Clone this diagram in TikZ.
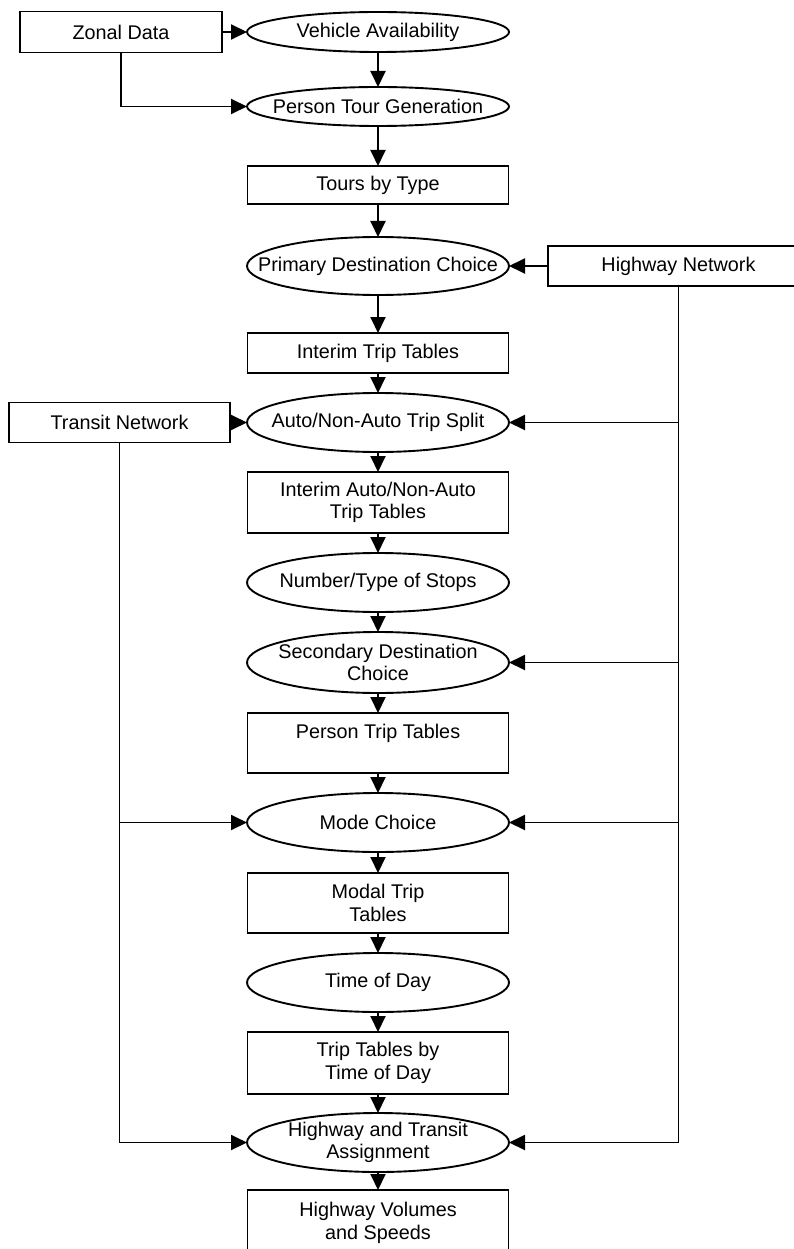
\documentclass[tikz,border=0pt]{standalone}
\usepackage{fontspec}
\setmainfont{Liberation Sans}
\usetikzlibrary{arrows.meta,positioning,shapes.geometric}

\begin{document}
\begin{tikzpicture}[font=\fontsize{19.8pt}{22.5pt}\selectfont,node distance=20pt,line width=1.9pt,
  box/.style={draw,align=center,minimum width=261pt,minimum height=40pt,inner sep=2pt,outer sep=0pt},
  proc/.style={draw,ellipse,align=center,minimum width=262pt,minimum height=40pt,inner xsep=-60pt,inner ysep=0pt,outer sep=0pt},
  arr/.style={-{Triangle[length=16pt,width=15pt]}}]
\useasboundingbox (0,0) rectangle (793pt,-1249pt);
\node[proc] (veh) at (378pt,-32pt) {Vehicle Availability};
\node[box,minimum width=202pt,minimum height=41pt,left=25pt of veh] (zonal) {Zonal Data};
\node[proc,minimum height=39pt,below=35pt of veh] (tourgen) {Person Tour Generation};
\node[box,minimum height=38pt,below=40pt of tourgen] (tours) {Tours by Type};
\node[proc,minimum height=58pt,below=33pt of tours] (primary) {Primary Destination Choice};
\node[box,right=39pt of primary] (hwynet) {Highway Network};
\node[box,below=38pt of primary] (interim) {Interim Trip Tables};
\node[proc,minimum height=59pt,below=of interim] (split) {Auto/Non-Auto Trip Split};
\node[box,minimum width=221pt,left=17pt of split] (transit) {Transit Network};
\node[box,minimum height=61pt,below=of split] (splittab) {Interim Auto/Non-Auto\\Trip Tables};
\node[proc,minimum height=59pt,below=of splittab] (stops) {Number/Type of Stops};
\node[proc,minimum height=61pt,below=of stops] (secondary) {Secondary Destination\\Choice};
\node[box,minimum height=60pt,below=of secondary] (persontab) {Person Trip Tables\\ \mbox{}};
\node[proc,minimum height=59pt,below=of persontab] (mode) {Mode Choice};
\node[box,minimum height=60pt,below=21pt of mode] (modaltab) {Modal Trip\\Tables};
\node[proc,minimum height=59pt,below=of modaltab] (tod) {Time of Day};
\node[box,minimum height=62pt,below=of tod] (todtab) {Trip Tables by\\Time of Day};
\node[proc,minimum height=59pt,below=19pt of todtab] (assign) {Highway and Transit\\Assignment};
\node[box,minimum height=66pt,below=18pt of assign] (volumes) {Highway Volumes\\and Speeds};

% main chain
\draw[arr] (veh) -- (tourgen);
\draw[arr] (tourgen) -- (tours);
\draw[arr] (tours) -- (primary);
\draw[arr] (primary) -- (interim);
\draw[arr] (interim) -- (split);
\draw[arr] (split) -- (splittab);
\draw[arr] (splittab) -- (stops);
\draw[arr] (stops) -- (secondary);
\draw[arr] (secondary) -- (persontab);
\draw[arr] (persontab) -- (mode);
\draw[arr] (mode) -- (modaltab);
\draw[arr] (modaltab) -- (tod);
\draw[arr] (tod) -- (todtab);
\draw[arr] (todtab) -- (assign);
\draw[arr] (assign) -- (volumes);

% inputs
\draw[arr] (zonal) -- (veh);
\draw[arr] (zonal) |- (tourgen);
\draw[arr] (hwynet) -- (primary);
\draw[arr] (hwynet) |- (split);
\draw[arr] (hwynet) |- (secondary);
\draw[arr] (hwynet) |- (mode);
\draw[arr] (hwynet) |- (assign);
\draw[arr] (transit) -- (split);
\draw[arr] (transit) |- (mode);
\draw[arr] (transit) |- (assign);
\end{tikzpicture}
\end{document}
